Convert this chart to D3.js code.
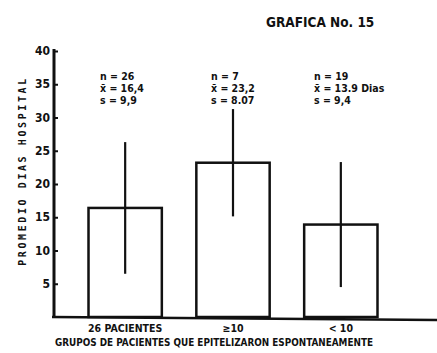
<!DOCTYPE html>
<html lang="en">
<head>
<meta charset="utf-8">
<script src="https://d3js.org/d3.v7.min.js"></script>
<style>
  body { margin: 0; background: #fff; }
  svg text { font-family: "DejaVu Sans Condensed", "Liberation Sans Narrow", sans-serif; font-weight: bold; fill: #111; }
</style>
</head>
<body>
<svg id="chart" width="437" height="353"></svg>
<script>
// data
var groups = ["26 PACIENTES", "\u226510", "< 10"];
var means = [16.4, 23.2, 13.9];
var sds = [9.9, 8.07, 9.4];
var ns = [26, 7, 19];
var meanLabels = ["16,4", "23,2", "13.9 Dias"];
var sdLabels = ["9,9", "8.07", "9,4"];
var yTicks = [5, 10, 15, 20, 25, 30, 35, 40];

var svg = d3.select("#chart");

var y = d3.scaleLinear().domain([0, 40]).range([317, 51]);
var x = d3.scaleBand().domain(groups).range([54, 412]).padding(0.32);

// title
svg.append("text")
  .attr("x", 266).attr("y", 27)
  .style("font-size", "13.5px")
  .text("GRAFICA No. 15");

// bars
svg.selectAll(".bar")
  .data(groups)
  .enter().append("rect")
  .attr("x", function(d) { return x(d); })
  .attr("y", function(d, i) { return y(means[i]); })
  .attr("width", x.bandwidth())
  .attr("height", function(d, i) { return y(0) - y(means[i]); })
  .attr("fill", "#fff")
  .attr("stroke", "#111")
  .attr("stroke-width", 2.5);

// mean +/- s lines
svg.selectAll(".err")
  .data(groups)
  .enter().append("line")
  .attr("x1", function(d) { return x(d) + x.bandwidth() / 2; })
  .attr("x2", function(d) { return x(d) + x.bandwidth() / 2; })
  .attr("y1", function(d, i) { return y(means[i] - sds[i]); })
  .attr("y2", function(d, i) { return y(means[i] + sds[i]); })
  .attr("stroke", "#111")
  .attr("stroke-width", 2.2);

// y axis
var yAxis = d3.axisRight(y).tickValues(yTicks).tickSize(4).tickFormat("");
var ga = svg.append("g").attr("transform", "translate(54,0)").call(yAxis);
ga.select(".domain").remove();
ga.selectAll(".tick line").attr("stroke", "#111").attr("stroke-width", 2);
svg.append("line")
  .attr("x1", 54).attr("x2", 54)
  .attr("y1", y(40) - 2).attr("y2", y(0) + 1)
  .attr("stroke", "#111").attr("stroke-width", 3);

svg.selectAll(".ylab")
  .data(yTicks)
  .enter().append("text")
  .attr("x", 50).attr("y", function(d) { return y(d) + 4; })
  .attr("text-anchor", "end")
  .style("font-size", "12px")
  .text(function(d) { return d; });

// baseline
svg.append("line")
  .attr("x1", 52).attr("x2", 437)
  .attr("y1", y(0)).attr("y2", y(0) + 3)
  .attr("stroke", "#111").attr("stroke-width", 2.5);

// y title
svg.append("text")
  .attr("transform", "translate(26,171) rotate(-90)")
  .attr("text-anchor", "middle")
  .style("font-size", "10px")
  .style("letter-spacing", "2.6px")
  .style("font-family", "'DejaVu Sans Mono', monospace")
  .text("PROMEDIO  DIAS  HOSPITAL");

// stats text above bars
var statX = [100, 211, 314];
groups.forEach(function(g, i) {
  var t = svg.append("text").style("font-size", "10.5px");
  t.append("tspan").attr("x", statX[i]).attr("y", 80).text("n = " + ns[i]);
  t.append("tspan").attr("x", statX[i]).attr("y", 92).text("x\u0304 = " + meanLabels[i]);
  t.append("tspan").attr("x", statX[i]).attr("y", 104).text("s = " + sdLabels[i]);
});

// category labels
svg.selectAll(".cat")
  .data(groups)
  .enter().append("text")
  .attr("x", function(d) { return x(d) + x.bandwidth() / 2; })
  .attr("y", 332)
  .attr("text-anchor", "middle")
  .style("font-size", "10.5px")
  .text(function(d) { return d; });

// x title
svg.append("text")
  .attr("x", 55).attr("y", 346)
  .attr("textLength", 318)
  .attr("lengthAdjust", "spacingAndGlyphs")
  .style("font-size", "10px")
  .text("GRUPOS DE PACIENTES QUE EPITELIZARON ESPONTANEAMENTE");
</script>
</body>
</html>
